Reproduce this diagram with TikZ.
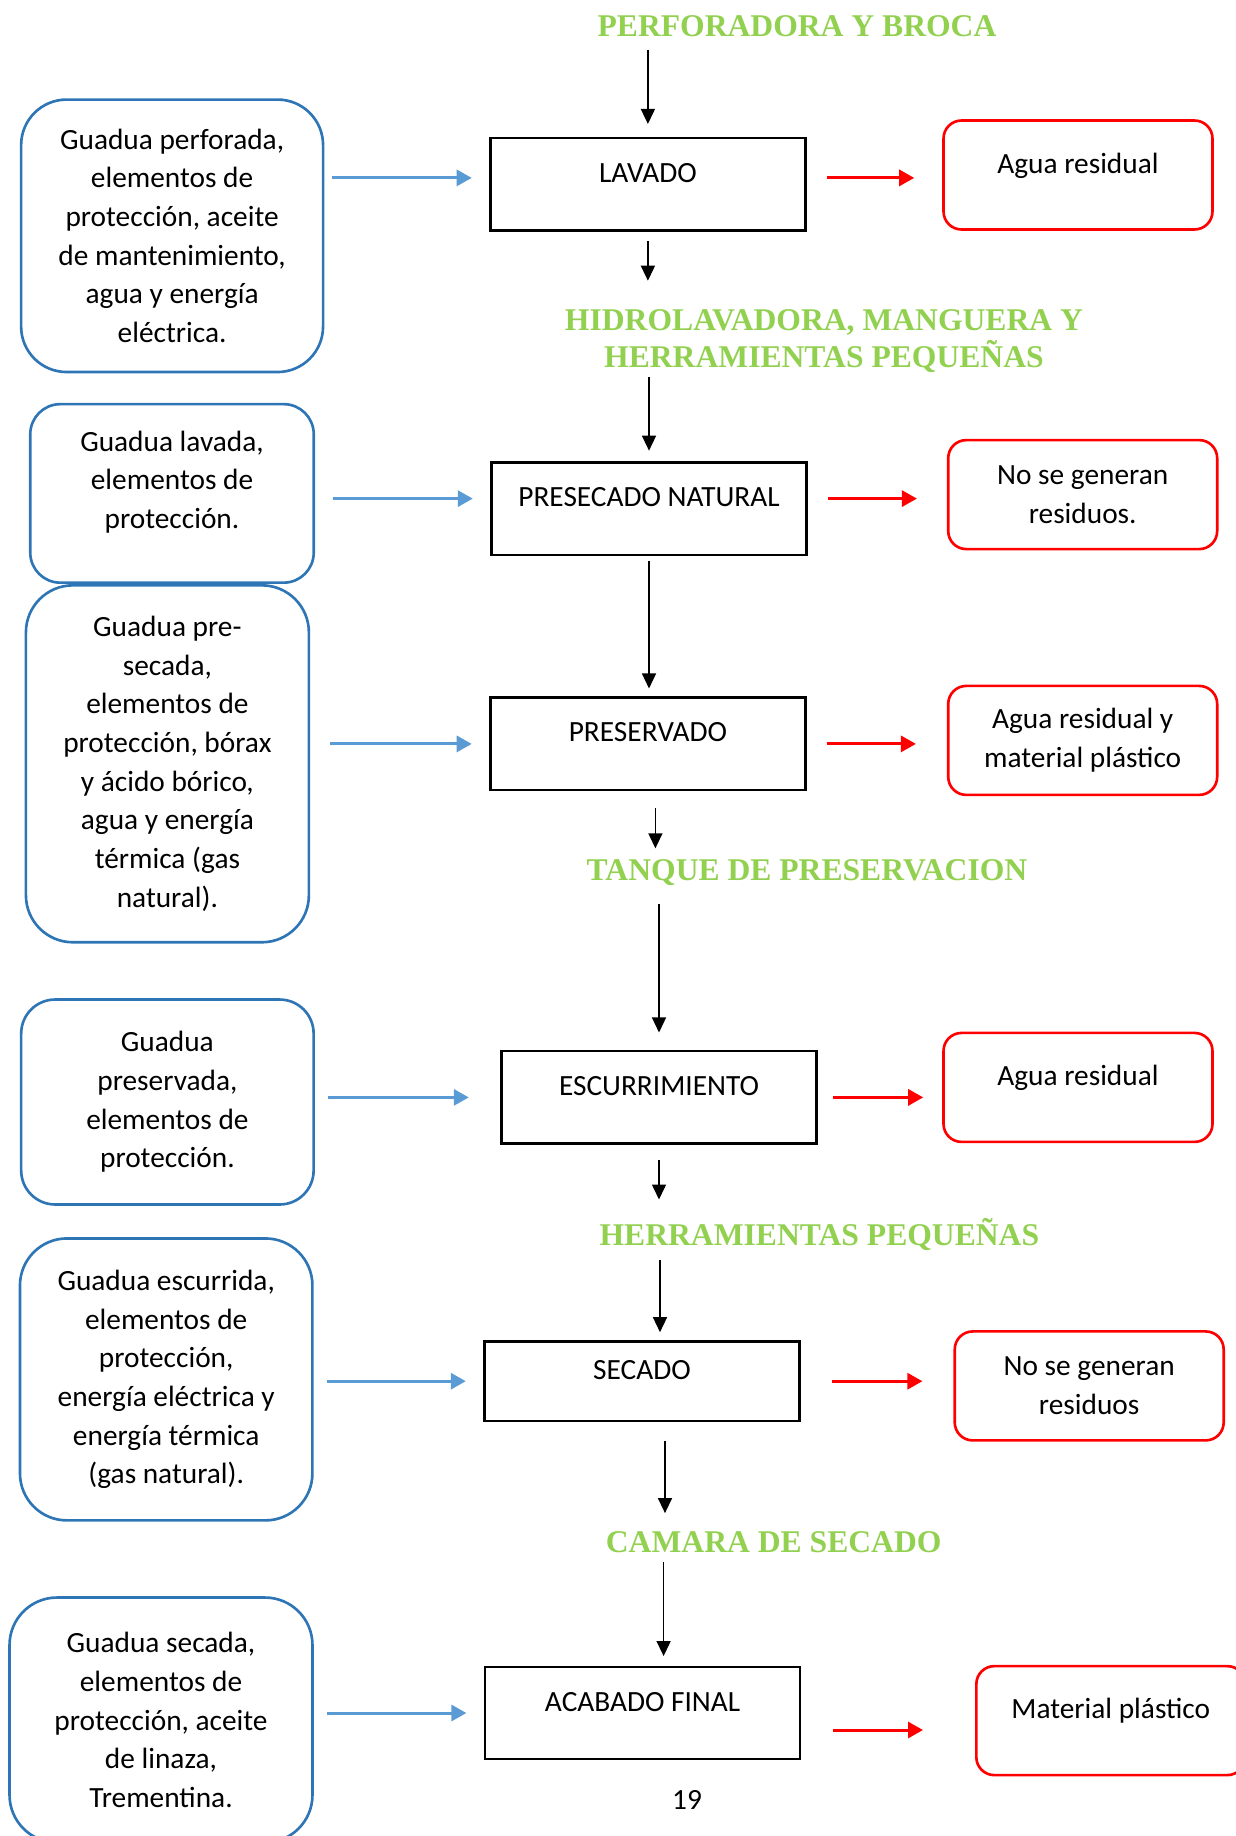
\documentclass[tikz,border=0pt]{standalone}
\usepackage{fontspec}
\setmainfont{Carlito}
\newfontfamily\titlefont{Liberation Serif}
\usetikzlibrary{arrows.meta}
\usetikzlibrary{positioning}
\definecolor{titlegreen}{RGB}{146,208,80}
\definecolor{inblue}{RGB}{46,117,182}
\definecolor{arrowblue}{RGB}{91,155,213}

\begin{document}
\begin{tikzpicture}[x=0.02cm,y=-0.02cm,
  title/.style={font=\titlefont\bfseries\fontsize{18}{21.3}\selectfont,text=titlegreen,inner sep=0pt,align=center},
  oneline/.style={text height=12pt,text depth=0pt},
  proc/.style={draw,line width=1.4pt,minimum width=6.3cm,inner ysep=0pt,text height=25.2pt,text depth=27.4pt,font=\fontsize{16.7}{22}\selectfont},
  inbox/.style={draw=inblue,line width=1.5pt,align=center,font=\fontsize{16.7}{22}\selectfont},
  waste/.style={draw=red,line width=1.5pt,rounded corners=0.36cm,minimum width=5.38cm,minimum height=2.18cm,align=center,font=\fontsize{16.7}{22}\selectfont},
  wastetop/.style={waste,inner ysep=0pt,text height=29.8pt,text depth=31.9pt},
  flow/.style={line width=0.8pt,-{Triangle[length=0.3cm,width=0.28cm]}},
  inarrow/.style={arrowblue,line width=1.7pt,-{Triangle[length=0.3cm,width=0.32cm]},shorten <=0.26cm,shorten >=0.35cm},
  outarrow/.style={red,line width=1.7pt,-{Triangle[length=0.3cm,width=0.32cm]},shorten <=0.41cm,shorten >=0.56cm}]
\useasboundingbox (0,0) rectangle (1236,1836);
\clip (0,0) rectangle (1236,1836);

\node[title,oneline] (perf) at (797,25.8) {PERFORADORA Y BROCA};
\node[title] (hidro) at (824,340.8) {HIDROLAVADORA, MANGUERA Y\\HERRAMIENTAS PEQUEÑAS};
\node[title,oneline] (tanque) at (807,869.7) {TANQUE DE PRESERVACION};
\node[title,oneline] (herr) at (819.4,1234.9) {HERRAMIENTAS PEQUEÑAS};
\node[title,oneline] (camara) at (773.7,1541.5) {CAMARA DE SECADO};

\node[proc] (lavado) at (647.9,184.4) {LAVADO};
\node[proc] (presecado) at (649,508.6) {PRESECADO NATURAL};
\node[proc] (preservado) at (647.9,743.9) {PRESERVADO};
\node[proc] (escurrimiento) at (659,1097.4) {ESCURRIMIENTO};
\node[proc,text height=21.9pt,text depth=23.4pt] (secado) at (642,1381.2) {SECADO};
\node[proc] (acabado) at (642.6,1713) {ACABADO FINAL};

\node[inbox,minimum width=6.04cm,minimum height=5.45cm,rounded corners=0.91cm] (in1) at (172.1,235.8) {Guadua perforada,\\elementos de\\protección, aceite\\de mantenimiento,\\agua y energía\\eléctrica.};
\node[inbox,minimum width=5.67cm,inner ysep=0pt,text height=26.7pt,text depth=74.9pt,rounded corners=0.6cm] (in2) at (172,493.4) {\begin{tabular}[t]{@{}c@{}}Guadua lavada,\\elementos de\\protección.\end{tabular}};
\node[inbox,minimum width=5.66cm,minimum height=7.14cm,rounded corners=0.94cm] (in3) at (167.4,763.8) {Guadua pre-\\secada,\\elementos de\\protección, bórax\\y ácido bórico,\\agua y energía\\térmica (gas\\natural).};
\node[inbox,minimum width=5.85cm,minimum height=4.1cm,rounded corners=0.68cm] (in4) at (167.4,1102) {Guadua\\preservada,\\elementos de\\protección.};
\node[inbox,minimum width=5.85cm,minimum height=5.64cm,rounded corners=0.94cm] (in5) at (166.2,1379.4) {Guadua escurrida,\\elementos de\\protección,\\energía eléctrica y\\energía térmica\\(gas natural).};
\node[inbox,minimum width=6.06cm,minimum height=4.9cm,rounded corners=0.95cm] (in6) at (161,1720) {Guadua secada,\\elementos de\\protección, aceite\\de linaza,\\Trementina.};

\node[wastetop] (w1) at (1078,175) {Agua residual};
\node[waste] (w2) at (1082.7,494.6) {No se generan\\residuos.};
\node[waste] (w3) at (1082.7,740.4) {Agua residual y\\material plástico};
\node[wastetop] (w4) at (1078,1087.4) {Agua residual};
\node[waste] (w5) at (1089.2,1385.9) {No se generan\\residuos};
\node[wastetop] (w6) at (1110.8,1720.6) {Material plástico};

\node[font=\fontsize{16.7}{22}\selectfont] (pagenum) at (687,1800.3) {19};

\draw[flow,shorten <=0.26cm,shorten >=0.26cm] (lavado |- perf.south) -- (lavado.north);
\draw[flow,shorten <=0.19cm,shorten >=0.56cm] (lavado.south) -- (lavado |- hidro.north);
\draw[flow,shorten <=0.09cm,shorten >=0.21cm] (presecado |- hidro.south) -- (presecado.north);
\draw[flow,shorten <=0.09cm,shorten >=0.16cm] (presecado.south) -- (presecado |- preservado.north);
\draw[flow,shorten <=0.33cm,shorten >=0.21cm] ([xshift=0.15cm]preservado.south) -- ([xshift=0.15cm]preservado.south |- tanque.north);
\draw[flow,shorten <=0.47cm,shorten >=0.35cm] (escurrimiento |- tanque.south) -- (escurrimiento.north);
\draw[flow,shorten <=0.3cm,shorten >=0.49cm] (escurrimiento.south) -- (escurrimiento |- herr.north);
\draw[flow,shorten <=0.28cm,shorten >=0.16cm] ([xshift=0.36cm]secado.north |- herr.south) -- ([xshift=0.36cm]secado.north);
\draw[flow,shorten <=0.37cm,shorten >=0.35cm] ([xshift=0.46cm]secado.south) -- ([xshift=0.46cm]secado.south |- camara.north);
\draw[flow,shorten <=0.19cm,shorten >=0.19cm] ([xshift=0.42cm]acabado.north |- camara.south) -- ([xshift=0.42cm]acabado.north);

\draw[inarrow,shorten <=0.16cm] ([yshift=0.13cm]in1.east |- lavado.west) -- ([yshift=0.13cm]lavado.west);
\draw[inarrow,shorten <=0.35cm] ([yshift=0.2cm]in2.east |- presecado.west) -- ([yshift=0.2cm]presecado.west);
\draw[inarrow,shorten <=0.4cm] (in3.east |- preservado.west) -- (preservado.west);
\draw[inarrow,shorten >=0.63cm] (in4.east |- escurrimiento.west) -- (escurrimiento.west);
\draw[inarrow] (in5.east |- secado.west) -- (secado.west);
\draw[inarrow] (in6.east |- acabado.west) -- (acabado.west);

\draw[outarrow] ([yshift=0.13cm]lavado.east) -- ([yshift=0.13cm]lavado.east -| w1.west);
\draw[outarrow,shorten >=0.6cm] ([yshift=0.2cm]presecado.east) -- ([yshift=0.2cm]presecado.east -| w2.west);
\draw[outarrow,shorten >=0.62cm] (preservado.east) -- (preservado.east -| w3.west);
\draw[outarrow,shorten <=0.3cm,shorten >=0.38cm] (escurrimiento.east) -- (escurrimiento.east -| w4.west);
\draw[outarrow,shorten <=0.63cm,shorten >=0.62cm] (secado.east) -- (secado.east -| w5.west);
\draw[outarrow,shorten <=0.63cm,shorten >=1.04cm] ([yshift=-0.34cm]acabado.east) -- ([yshift=-0.34cm]acabado.east -| w6.west);

\end{tikzpicture}
\end{document}
